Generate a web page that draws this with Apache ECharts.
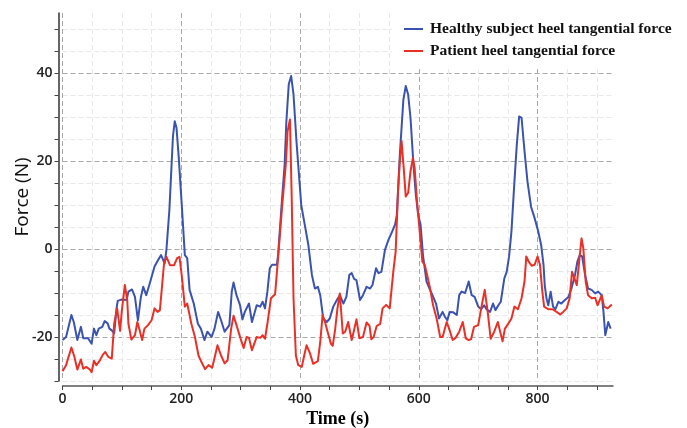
<!DOCTYPE html>
<html lang="en">
<head>
<meta charset="UTF-8">
<title>Heel tangential force</title>
<style>
    html, body { margin: 0; padding: 0; background: #fff; }
    #chart { width: 687px; height: 428px; }
</style>
</head>
<body>
<div id="chart"></div>
<script src="https://cdn.jsdelivr.net/npm/echarts@6/dist/echarts.min.js"></script>
<script>
// values
const healthyTime = [0,6,15,19,25,27,31,35,38,43,49,53,57,61,67,71,76,79,83,87,91,93,99,108,111,117,122,127,132,136,141,147,155,161,166,172,175,180,186,189,192,196,201,206,210,214,221,228,233,239,244,251,256,262,267,273,276,281,285,288,293,299,303,307,314,319,323,327,333,337,341,345,349,353,361,363,369,374,377,381,385,389,394,402,407,414,420,425,430,434,439,445,450,456,462,467,473,478,483,487,491,495,501,506,512,518,522,528,532,537,543,549,554,560,563,568,574,578,582,586,591,595,599,603,607,613,618,623,629,634,640,644,648,652,658,664,668,672,678,684,689,694,700,705,710,714,720,725,729,734,738,744,748,752,756,761,765,769,773,778,783,789,795,801,806,810,812,815,818,822,826,830,835,840,846,852,857,863,867,871,875,880,885,891,897,902,908,911,914,919,923];
const healthyForce = [-20.7,-20,-15,-16.6,-20.7,-21.1,-17.7,-20.3,-20,-20.3,-21.5,-18.1,-19.6,-18.1,-17.7,-16.4,-16.9,-18.1,-18.5,-19.2,-13.5,-11.8,-11.5,-11.6,-9.7,-9.2,-10.9,-16.2,-10.9,-8.6,-10.5,-7.8,-4,-2.5,-1.4,-3.3,-0.2,8.9,25.6,29,27.5,20.3,9.6,-1.4,-2.1,-9.3,-12.4,-17,-18.1,-20.7,-18.8,-20,-18.1,-14.3,-16.2,-18.8,-18.8,-17.3,-9.7,-7.6,-10.5,-12.8,-16,-14.3,-12.4,-16.6,-14.7,-12.8,-13.1,-12,-13.5,-9.7,-4.4,-3.6,-3.6,-1.4,10,19.1,29,37.4,39.3,35.1,24.4,10,6.2,0.9,-5.9,-9,-8.6,-10.5,-15.8,-16.6,-15.8,-13.1,-11.6,-10.5,-12.4,-10.9,-5.9,-5.5,-6.8,-7.1,-11.6,-10.5,-8.6,-9,-8.2,-4.4,-5.5,-5.2,-0.2,2.1,3.6,5.5,7.7,21.4,33.9,37,35.1,29.8,19.1,12.3,7.7,5.5,-1.4,-7.4,-9,-10.5,-12.4,-15.8,-14.3,-15.4,-16.2,-14.3,-14.4,-15,-10.5,-9.7,-10,-7.4,-10.5,-10.9,-13.1,-13.7,-12.8,-13.7,-14.3,-12.4,-13.9,-12.8,-12,-6.7,-5.2,-1.7,4,15.3,23.7,30.1,29.8,22.2,15.3,9.6,7,4,0.9,-3.6,-8.2,-11.2,-12.8,-9.7,-13.1,-13.7,-12,-12.4,-11.6,-10.9,-9,-5.9,-2.9,-1.4,-1.7,-5.9,-9,-9.3,-10.1,-9.7,-10.5,-14.3,-19.6,-16.6,-18.1];

const patientTime = [0,6,15,20,25,31,35,40,46,49,53,57,63,68,72,77,83,87,92,97,100,105,109,111,116,122,126,130,134,138,144,150,155,160,164,166,171,175,181,188,193,197,201,206,210,217,223,229,234,240,246,252,257,261,267,273,278,284,288,293,299,305,310,314,319,323,327,333,337,341,345,351,358,363,370,376,379,383,386,389,393,397,403,407,411,417,422,430,434,438,442,448,452,455,459,463,467,472,476,481,487,491,495,500,506,512,517,520,524,529,535,539,545,551,557,561,565,568,571,575,578,582,586,590,593,597,602,606,610,614,619,624,630,636,640,647,651,657,662,668,674,679,684,688,693,700,706,711,716,721,727,733,737,741,745,751,756,761,767,773,778,781,785,790,795,800,804,808,811,818,825,832,838,843,849,854,858,862,866,870,874,877,881,885,891,897,901,908,912,918,925];
const patientForce = [-27.8,-26.4,-22.4,-24.5,-27.4,-25.1,-27.2,-26.8,-27.4,-28,-25.4,-26.4,-25.3,-24,-23.4,-24.5,-24.9,-17,-13.5,-18.6,-13.9,-8.2,-11.6,-17,-20.6,-19.6,-16.6,-18.5,-20.7,-18.1,-17.3,-16.2,-13.5,-14.3,-13.9,-10.9,-3.3,-1.8,-3.7,-3.7,-2.1,-1.8,-6.3,-13.1,-12.4,-17,-20,-24.2,-25.7,-27.3,-26.4,-27,-24.2,-21.9,-24.2,-26,-25.3,-18.1,-15.2,-17.3,-20,-22.5,-20,-20.2,-23,-21.5,-20,-20.2,-19.6,-20.4,-17,-11.2,-10.3,-2.1,10,19.1,26.7,29.4,11.5,-11.2,-24.2,-26.4,-26.8,-24.2,-21.9,-23.8,-26.1,-25.5,-21.1,-15,-16.6,-19.6,-21.5,-22,-18.4,-13.5,-10.1,-19.2,-18.8,-16.6,-20.7,-18.4,-16,-20.3,-20,-16.7,-17.5,-20.5,-20,-17.5,-17,-13.5,-12.7,-13.5,-5.2,-0.6,13.1,19.9,24.5,17.6,11.9,12.7,17.6,20.7,18.4,10.8,3.2,-2.9,-3.6,-5.9,-9,-12.8,-15.8,-20,-20,-16.6,-18.1,-20.7,-20.2,-18.8,-16.6,-20.3,-20.7,-20.5,-17.7,-17.3,-12.8,-9.3,-14.3,-20.4,-18.8,-16.6,-18.8,-21,-18.1,-16.9,-15.8,-13.1,-13.7,-11.2,-7.4,-1.7,-2.9,-3.8,-3.6,-1.7,-3.6,-9.7,-13.1,-13.7,-13.7,-14.3,-14.9,-14.3,-13.5,-11.2,-5.2,-6.7,-8.2,-2.9,2.4,0.2,-7.4,-10.5,-11.2,-11.1,-12.8,-10.5,-13.1,-13.5,-12.6];

const xLabels = [0, 200, 400, 600, 800];
const yLabels = [-20, 0, 20, 40];

const seriesNames = ['Healthy subject heel tangential force', 'Patient heel tangential force'];

const myChart = echarts.init(document.getElementById('chart'));

const pairs = (ts, vs) => ts.map((t, i) => [t, vs[i]]);

const major = '#a9a9a9';
const minor = '#e8e8e8';

const option = {
    animation: false,
    backgroundColor: '#fff',
    grid: { left: 62.5, right: 74, top: 13, bottom: 47, outerBoundsMode: 'none', containLabel: false },
    legend: {
        data: seriesNames,
        orient: 'vertical',
        left: 392,
        top: 13,
        padding: [8, 12, 8, 12],
        backgroundColor: '#fff',
        itemGap: 6,
        itemWidth: 19,
        itemHeight: 2,
        icon: 'rect',
        textStyle: {
            fontFamily: 'Liberation Serif',
            fontWeight: 'bold',
            fontSize: 15.5,
            color: '#111',
            lineHeight: 16,
            padding: [0, 0, 0, 2]
        }
    },
    xAxis: {
        type: 'value',
        min: 0,
        max: 927,
        interval: 50,
        offset: 5,
        name: 'Time (s)',
        nameLocation: 'middle',
        nameGap: 24,
        nameMoveOverlap: false,
        nameTextStyle: {
            fontFamily: 'Liberation Serif',
            fontWeight: 'bold',
            fontSize: 18,
            color: '#000'
        },
        axisLine: { onZero: false, lineStyle: { color: '#555', width: 1.5 } },
        axisTick: { length: 4, lineStyle: { color: '#444' } },
        axisLabel: {
            margin: 6,
            fontFamily: 'Open Sans',
            fontWeight: 600,
            fontSize: 14,
            color: '#222',
            showMaxLabel: false,
            formatter: v => xLabels.includes(v) ? String(v) : ''
        },
        splitLine: {
            show: true,
            showMaxLine: false,
            lineStyle: { color: [major, minor, minor, minor], type: [5, 3], width: 1 }
        }
    },
    yAxis: {
        type: 'value',
        min: -30,
        max: 53.6,
        interval: 5,
        offset: 4,
        name: 'Force (N)',
        nameLocation: 'middle',
        nameGap: 26,
        nameMoveOverlap: false,
        nameTextStyle: {
            fontFamily: 'Open Sans',
            fontSize: 19,
            color: '#111'
        },
        axisLine: { show: true, onZero: false, lineStyle: { color: '#333', width: 1.5 } },
        axisTick: { show: true, length: 4, lineStyle: { color: '#444' } },
        axisLabel: {
            margin: 6,
            fontFamily: 'Open Sans',
            fontWeight: 600,
            fontSize: 14,
            color: '#222',
            showMaxLabel: false,
            formatter: v => yLabels.includes(v) ? String(v) : ''
        },
        splitLine: {
            show: true,
            showMaxLine: false,
            lineStyle: { color: [minor, minor, major, minor], type: [5, 3], width: 1 }
        }
    },
    series: [{
        name: seriesNames[0],
        type: 'line',
        data: pairs(healthyTime, healthyForce),
        showSymbol: false,
        symbol: 'none',
        color: '#3a53b0',
        lineStyle: { width: 2, color: '#3a53b0', join: 'round' }
    }, {
        name: seriesNames[1],
        type: 'line',
        data: pairs(patientTime, patientForce),
        showSymbol: false,
        symbol: 'none',
        color: '#ea3026',
        lineStyle: { width: 2, color: '#ea3026', join: 'round' }
    }]
};

myChart.setOption(option);
</script>
</body>
</html>
